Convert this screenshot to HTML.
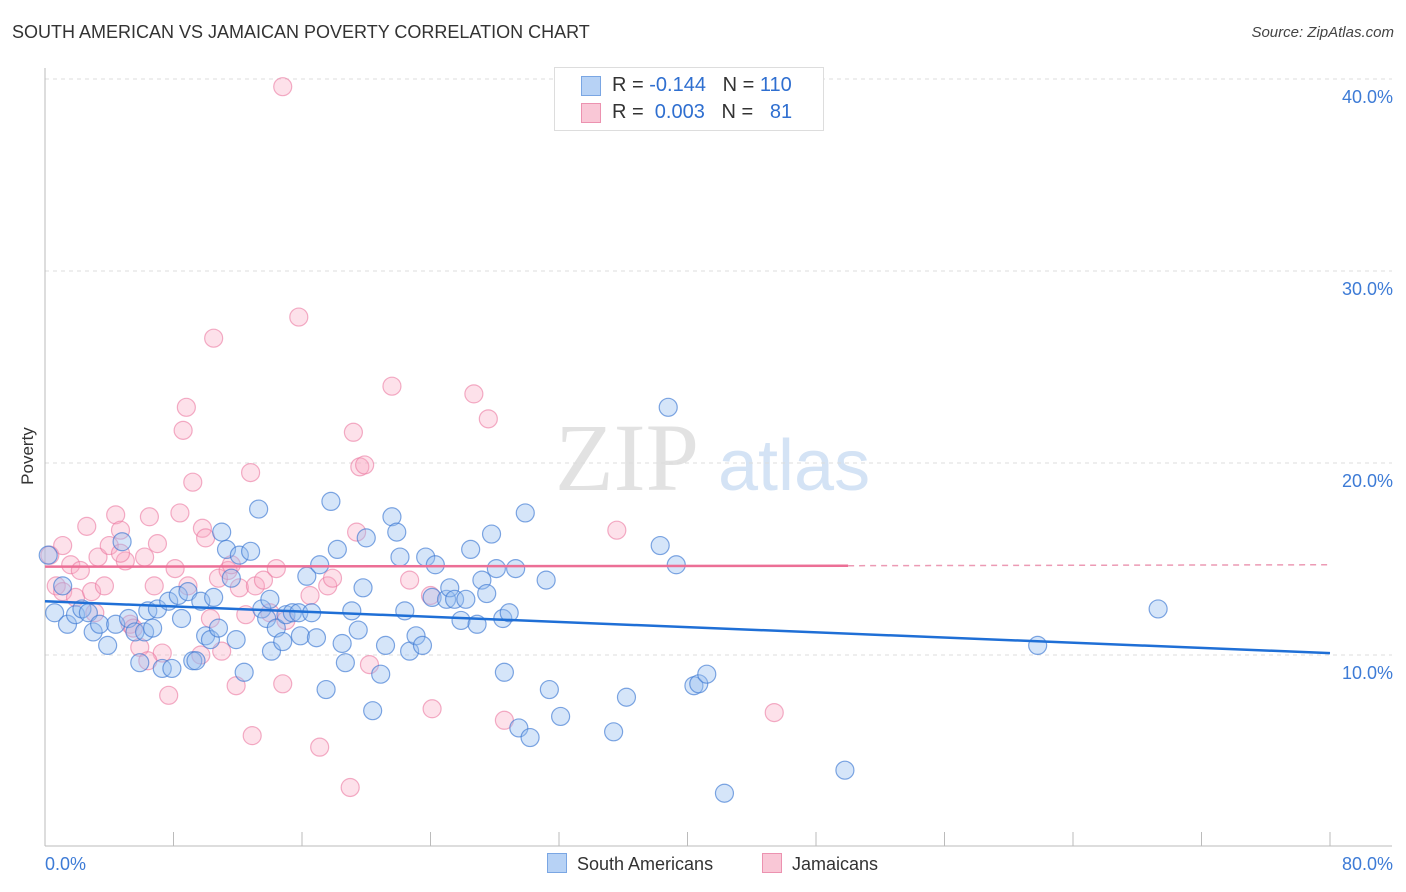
<!DOCTYPE html>
<html><head><meta charset="utf-8">
<style>
body{margin:0;background:#fff;font-family:"Liberation Sans",sans-serif;}
#wrap{position:relative;width:1406px;height:892px;overflow:hidden;}
.t{position:absolute;white-space:nowrap;}
</style></head>
<body>
<div id="wrap">
<div class="t" style="left:12px;top:22px;font-size:18px;color:#333;">SOUTH AMERICAN VS JAMAICAN POVERTY CORRELATION CHART</div>
<div class="t" style="right:12px;top:24px;font-size:15px;color:#444;font-style:italic;">Source: ZipAtlas.com</div>
<svg id="svg" width="1406" height="892" style="position:absolute;left:0;top:0;"></svg>
</div>
<script>
const xTicks=[0,8,16,24,32,40,48,56,64,72,80];
const yTicks=[10,20,30,40];
const yTickLabels=["10.0%","20.0%","30.0%","40.0%"];
const blueX=[0.2,0.6,1.1,1.4,1.9,2.3,2.7,3.0,3.4,3.9,4.4,4.8,5.2,5.6,5.9,6.2,6.4,6.7,7.0,7.3,7.7,7.9,8.3,8.5,8.9,9.2,9.4,9.7,10.0,10.3,10.5,10.8,11.0,11.3,11.6,11.9,12.1,12.4,12.8,13.3,13.5,13.8,14.1,14.4,14.8,15.0,15.4,15.8,15.9,16.3,16.6,16.9,17.1,17.5,17.8,18.2,18.5,18.7,19.1,19.5,19.8,20.0,20.4,20.9,21.2,21.6,21.9,22.1,22.4,22.7,23.1,23.5,23.7,24.1,24.3,25.0,25.2,25.5,25.9,26.2,26.5,26.9,27.2,27.5,27.8,28.1,28.5,28.6,28.9,29.3,29.5,29.9,30.2,31.2,31.4,32.1,35.4,36.2,38.3,38.8,39.3,40.4,40.7,41.2,42.3,49.8,61.8,69.3,14.0];
const blueY=[15.2,12.2,13.6,11.6,12.1,12.4,12.2,11.2,11.6,10.5,11.6,15.9,11.9,11.2,9.6,11.2,12.3,11.4,12.4,9.3,12.8,9.3,13.1,11.9,13.3,9.7,9.7,12.8,11.0,10.8,13.0,11.4,16.4,15.5,14.0,10.8,15.2,9.1,15.4,17.6,12.4,11.9,10.2,11.4,10.7,12.1,12.2,12.2,11.0,14.1,12.2,10.9,14.7,8.2,18.0,15.5,10.6,9.6,12.3,11.3,13.5,16.1,7.1,9.0,10.5,17.2,16.4,15.1,12.3,10.2,11.0,10.5,15.1,13.0,14.7,12.9,13.5,12.9,11.8,12.9,15.5,11.6,13.9,13.2,16.3,14.5,11.9,9.1,12.2,14.5,6.2,17.4,5.7,13.9,8.2,6.8,6.0,7.8,15.7,22.9,14.7,8.4,8.5,9.0,2.8,4.0,10.5,12.4,12.9];
const pinkX=[0.3,0.7,1.1,1.6,1.9,2.2,2.6,2.9,3.3,3.7,4.0,4.4,4.7,5.0,5.3,5.5,5.9,6.2,6.5,6.8,7.0,7.3,7.7,8.1,8.4,8.6,8.8,8.9,9.2,9.7,9.8,10.0,10.3,10.5,10.8,11.0,11.4,11.6,11.9,12.1,12.5,12.8,12.9,13.1,13.6,14.0,14.4,14.8,15.0,15.8,14.8,16.5,17.1,17.6,17.9,19.0,19.2,19.4,19.6,19.9,20.2,21.6,22.7,24.0,24.1,26.7,27.6,28.6,35.6,45.4,4.7,6.4,3.1,1.1];
const pinkY=[15.2,13.6,13.3,14.7,13.0,14.4,16.7,13.3,15.1,13.6,15.7,17.3,16.5,14.9,11.6,11.4,10.4,15.1,17.2,13.6,15.8,10.1,7.9,14.5,17.4,21.7,22.9,13.6,19.0,10.0,16.6,16.1,11.9,26.5,14.0,10.2,14.4,14.7,8.4,13.5,12.1,19.5,5.8,13.6,13.9,12.2,14.5,8.5,11.8,27.6,39.6,13.1,5.2,13.6,14.0,3.1,21.6,16.4,19.8,19.9,9.5,24.0,13.9,13.1,7.2,23.6,22.3,6.6,16.5,7.0,15.3,9.7,12.2,15.7];
const blueTrend=[0,12.8,80,10.1];
const pinkTrend=[0,14.6,50,14.65,80,14.7];

const svg=document.getElementById('svg');
const NS='http://www.w3.org/2000/svg';
const X=v=>45+v*1285/80;
const Y=v=>847-v*19.2;
function mk(tag,attrs,parent){const e=document.createElementNS(NS,tag);for(const k in attrs)e.setAttribute(k,attrs[k]);(parent||svg).appendChild(e);return e;}

// watermark
let wm=mk('text',{x:555,y:490,'font-size':96,fill:'#e2e2e2','font-family':'Liberation Serif'});wm.textContent='ZIP';


let wm2=mk('text',{x:718,y:490,'font-size':72,fill:'#d4e3f5','font-family':'Liberation Sans'});wm2.textContent='atlas';



// gridlines & y labels
yTicks.forEach((t,i)=>{
  const g=mk('line',{x1:45,x2:1392,y1:Y(t),y2:Y(t),stroke:'#dcdcdc','stroke-dasharray':'4,4'});
  
  
  const l=mk('text',{x:1393,y:Y(t)+24,'text-anchor':'end','font-size':18,fill:'#3d7bd6'});
  l.textContent=yTickLabels[i];
  
  
});
// axes
let ya=mk('line',{x1:45,x2:45,y1:68,y2:846,stroke:'#bbb'});


let xa=mk('line',{x1:45,x2:1392,y1:846,y2:846,stroke:'#bbb'});


xTicks.forEach(t=>{
  const k=mk('line',{x1:X(t),x2:X(t),y1:832,y2:846,stroke:'#bbb'});
  
  
});
let x0=mk('text',{x:45,y:870,'font-size':18,fill:'#3d7bd6'});x0.textContent='0.0%';


let x1=mk('text',{x:1393,y:870,'font-size':18,fill:'#3d7bd6','text-anchor':'end'});x1.textContent='80.0%';


let yt=mk('text',{x:33,y:456,'font-size':17,fill:'#333','text-anchor':'middle',transform:'rotate(-90 33 456)'});yt.textContent='Poverty';



// points
pinkX.forEach((v,i)=>{
  const c=mk('circle',{cx:X(v),cy:Y(pinkY[i]),r:9,fill:'rgba(248,170,195,0.35)',stroke:'rgba(235,120,160,0.6)','stroke-width':1.2});
  
  
});
blueX.forEach((v,i)=>{
  const c=mk('circle',{cx:X(v),cy:Y(blueY[i]),r:9,fill:'rgba(150,190,240,0.4)',stroke:'rgba(60,120,210,0.65)','stroke-width':1.2});
  
  
});
// trends
let bt=mk('line',{x1:X(blueTrend[0]),y1:Y(blueTrend[1]),x2:X(blueTrend[2]),y2:Y(blueTrend[3]),stroke:'#1f6fd6','stroke-width':2.5});


let pt=mk('line',{x1:X(pinkTrend[0]),y1:Y(pinkTrend[1]),x2:X(pinkTrend[2]),y2:Y(pinkTrend[3]),stroke:'#ec6f96','stroke-width':2.5});


let pd=mk('line',{x1:X(pinkTrend[2]),y1:Y(pinkTrend[3]),x2:X(pinkTrend[4]),y2:Y(pinkTrend[5]),stroke:'#ec9ab4','stroke-width':1.5,'stroke-dasharray':'6,5'});


</script>
<div class="t" style="left:554px;top:67px;width:268px;height:62px;border:1px solid #ddd;background:#fff;">
  <div style="position:absolute;left:26px;top:8px;width:18px;height:18px;background:#b7d2f5;border:1px solid #7aa6e3;"></div>
  <div style="position:absolute;left:26px;top:35px;width:18px;height:18px;background:#f9c7d6;border:1px solid #ec92b0;"></div>
  <div style="position:absolute;left:57px;top:6px;font-size:20px;color:#333;">R = <span style="color:#2f6fd0">-0.144</span>&nbsp;&nbsp;&nbsp;N = <span style="color:#2f6fd0">110</span></div>
  <div style="position:absolute;left:57px;top:33px;font-size:20px;color:#333;">R = &nbsp;<span style="color:#2f6fd0">0.003</span>&nbsp;&nbsp;&nbsp;N = &nbsp;&nbsp;<span style="color:#2f6fd0">81</span></div>
</div>
<div class="t" style="left:547px;top:853px;font-size:18px;color:#333;"><span style="display:inline-block;width:18px;height:18px;background:#b7d2f5;border:1px solid #7aa6e3;vertical-align:-3px;margin-right:10px;"></span>South Americans</div>
<div class="t" style="left:762px;top:853px;font-size:18px;color:#333;"><span style="display:inline-block;width:18px;height:18px;background:#f9c7d6;border:1px solid #ec92b0;vertical-align:-3px;margin-right:10px;"></span>Jamaicans</div>
</body></html>
